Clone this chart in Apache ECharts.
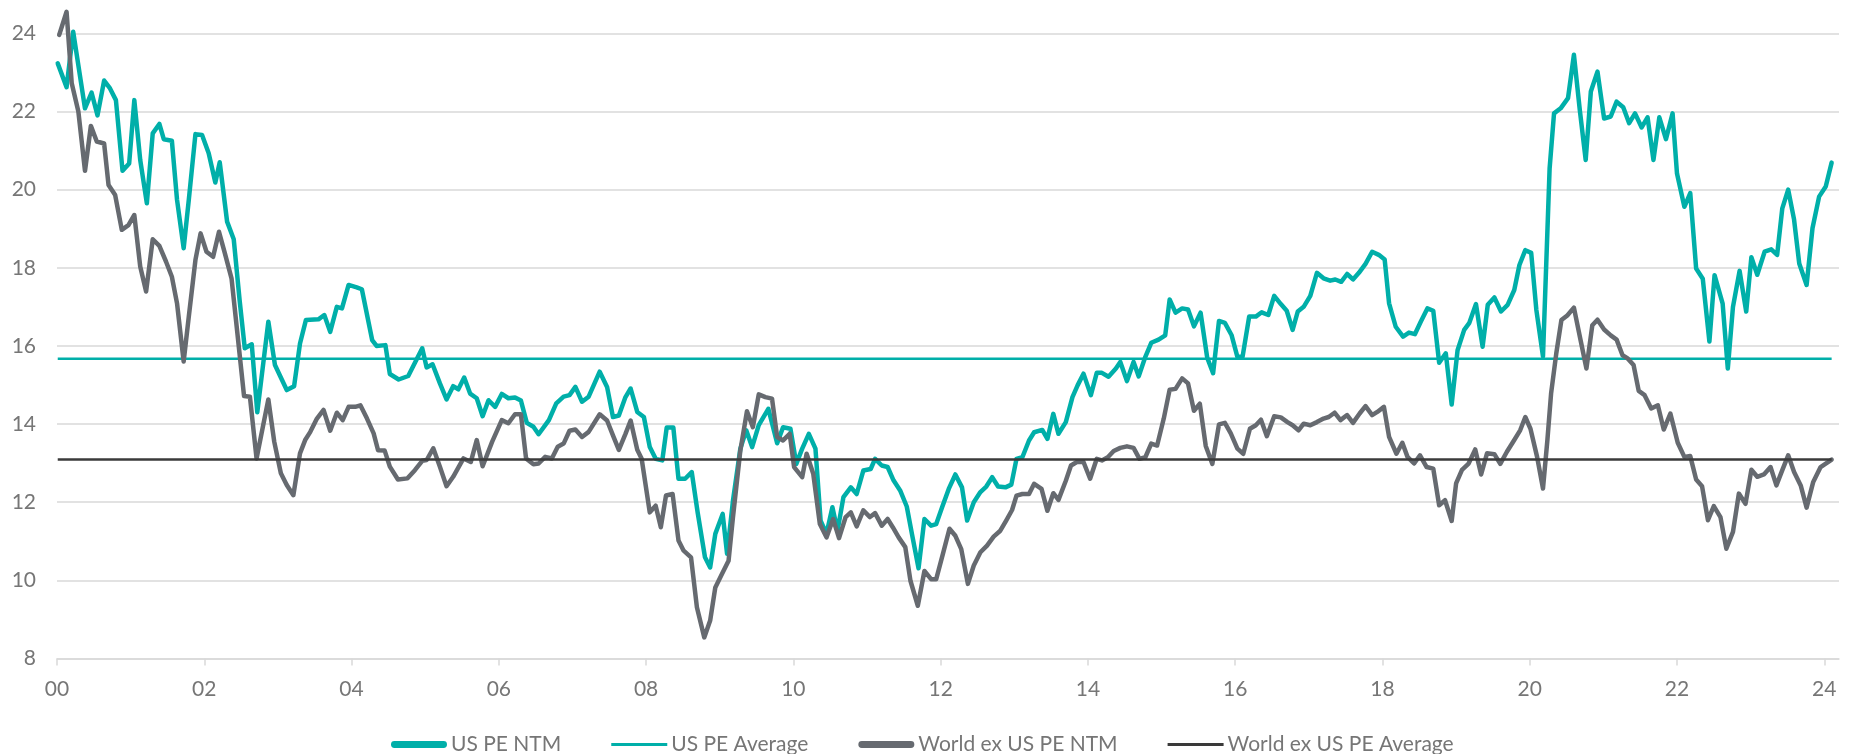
<!DOCTYPE html>
<html>
<head>
<meta charset="utf-8">
<script src="https://cdn.jsdelivr.net/npm/echarts@6/dist/echarts.min.js"></script>
<style>
html,body{margin:0;padding:0;background:#fff;}
#chart{width:1855px;height:754px;}
</style>
</head>
<body>
<div id="chart"></div>
<script>
// x values: years since 2000 (labels '00'..'24')
const xTickLabels = ['00','02','04','06','08','10','12','14','16','18','20','22','24'];
const yTicks = [8,10,12,14,16,18,20,22,24];

const usYears = [0.01,0.13,0.22,0.38,0.47,0.55,0.64,0.72,0.80,0.89,0.98,1.05,1.13,1.22,1.30,1.39,1.45,1.56,1.63,1.72,1.79,1.88,1.97,2.06,2.15,2.21,2.31,2.40,2.48,2.55,2.645,2.72,2.87,2.96,3.12,3.22,3.30,3.38,3.55,3.63,3.71,3.80,3.87,3.96,4.07,4.14,4.28,4.34,4.46,4.52,4.64,4.77,4.96,5.02,5.10,5.20,5.29,5.38,5.45,5.53,5.61,5.70,5.78,5.86,5.95,6.04,6.13,6.22,6.30,6.38,6.47,6.54,6.68,6.78,6.88,6.96,7.04,7.13,7.22,7.37,7.47,7.55,7.63,7.72,7.79,7.88,7.97,8.05,8.13,8.22,8.28,8.37,8.44,8.53,8.62,8.70,8.80,8.87,8.94,9.04,9.10,9.18,9.28,9.36,9.44,9.53,9.66,9.78,9.86,9.96,10.04,10.12,10.21,10.30,10.37,10.45,10.53,10.60,10.68,10.78,10.86,10.95,11.05,11.11,11.20,11.28,11.36,11.45,11.54,11.61,11.70,11.78,11.87,11.94,12.02,12.11,12.20,12.29,12.36,12.45,12.54,12.62,12.70,12.78,12.88,12.96,13.03,13.11,13.20,13.27,13.38,13.45,13.53,13.60,13.70,13.79,13.86,13.94,14.04,14.12,14.19,14.28,14.38,14.44,14.53,14.62,14.69,14.78,14.86,14.96,15.05,15.11,15.19,15.28,15.36,15.44,15.53,15.62,15.70,15.78,15.86,15.95,16.03,16.10,16.19,16.28,16.36,16.45,16.53,16.62,16.70,16.78,16.85,16.93,17.02,17.11,17.20,17.29,17.36,17.44,17.52,17.60,17.68,17.77,17.86,17.95,18.03,18.09,18.18,18.28,18.36,18.44,18.52,18.61,18.69,18.77,18.86,18.94,19.02,19.11,19.18,19.27,19.36,19.43,19.52,19.61,19.70,19.79,19.86,19.94,20.02,20.09,20.18,20.27,20.33,20.42,20.52,20.60,20.68,20.76,20.83,20.92,21.01,21.10,21.18,21.27,21.35,21.43,21.52,21.60,21.68,21.76,21.85,21.94,22.00,22.10,22.18,22.26,22.35,22.44,22.51,22.62,22.69,22.76,22.85,22.94,23.01,23.09,23.19,23.28,23.36,23.43,23.51,23.59,23.66,23.76,23.84,23.93,24.02,24.10];
const usPE = [23.23,22.62,24.04,22.08,22.48,21.90,22.79,22.59,22.29,20.48,20.67,22.29,20.76,19.65,21.44,21.68,21.29,21.25,19.74,18.50,19.74,21.42,21.40,20.93,20.18,20.70,19.18,18.73,17.17,15.94,16.04,14.30,16.62,15.51,14.87,14.97,16.06,16.66,16.68,16.79,16.36,17.00,16.96,17.56,17.50,17.45,16.15,16.00,16.02,15.28,15.14,15.23,15.94,15.45,15.53,15.04,14.63,14.97,14.89,15.19,14.78,14.66,14.20,14.61,14.44,14.77,14.66,14.68,14.60,14.03,13.93,13.74,14.10,14.53,14.70,14.74,14.95,14.57,14.70,15.34,14.95,14.18,14.22,14.69,14.91,14.31,14.18,13.41,13.11,13.07,13.91,13.91,12.60,12.60,12.77,11.74,10.59,10.33,11.19,11.70,10.68,12.04,13.37,13.84,13.41,13.97,14.39,13.51,13.92,13.88,12.98,13.37,13.75,13.37,11.53,11.19,11.87,11.27,12.13,12.38,12.21,12.81,12.85,13.11,12.94,12.90,12.56,12.30,11.89,11.19,10.31,11.57,11.40,11.44,11.87,12.34,12.71,12.38,11.53,12.00,12.26,12.40,12.64,12.40,12.38,12.45,13.11,13.15,13.58,13.79,13.85,13.62,14.26,13.75,14.05,14.69,14.99,15.29,14.74,15.31,15.31,15.21,15.42,15.59,15.10,15.59,15.22,15.72,16.08,16.16,16.27,17.19,16.85,16.96,16.93,16.50,16.85,15.70,15.30,16.64,16.59,16.28,15.72,15.72,16.75,16.75,16.86,16.79,17.28,17.07,16.90,16.41,16.88,17.00,17.28,17.87,17.73,17.67,17.70,17.64,17.84,17.70,17.87,18.10,18.41,18.33,18.21,17.09,16.49,16.24,16.34,16.30,16.62,16.96,16.90,15.57,15.81,14.50,15.89,16.41,16.59,17.07,15.98,17.05,17.24,16.88,17.05,17.43,18.07,18.45,18.38,16.92,15.73,20.54,21.95,22.08,22.34,23.45,22.04,20.76,22.51,23.02,21.82,21.87,22.25,22.11,21.70,21.95,21.59,21.85,20.76,21.85,21.29,21.95,20.41,19.56,19.91,17.98,17.72,16.11,17.81,17.08,15.42,17.00,17.92,16.88,18.27,17.82,18.41,18.47,18.33,19.52,20.00,19.23,18.11,17.56,19.01,19.82,20.08,20.69];

const wxYears = [0.03,0.13,0.20,0.29,0.38,0.46,0.54,0.64,0.70,0.79,0.88,0.97,1.05,1.13,1.21,1.30,1.39,1.48,1.56,1.63,1.72,1.79,1.88,1.95,2.03,2.12,2.20,2.28,2.37,2.45,2.54,2.62,2.71,2.87,2.95,3.04,3.12,3.21,3.30,3.37,3.44,3.53,3.62,3.71,3.80,3.88,3.96,4.05,4.12,4.21,4.30,4.36,4.45,4.52,4.63,4.76,4.86,4.96,5.02,5.11,5.20,5.29,5.38,5.52,5.62,5.70,5.78,5.91,6.04,6.13,6.22,6.30,6.37,6.47,6.54,6.63,6.72,6.80,6.88,6.96,7.04,7.13,7.22,7.37,7.47,7.55,7.63,7.72,7.79,7.88,7.94,8.05,8.13,8.20,8.27,8.36,8.44,8.51,8.61,8.69,8.79,8.87,8.94,9.03,9.12,9.18,9.28,9.37,9.45,9.53,9.62,9.71,9.78,9.86,9.95,10.01,10.12,10.18,10.27,10.36,10.45,10.54,10.62,10.71,10.78,10.86,10.95,11.04,11.11,11.20,11.28,11.35,11.43,11.52,11.59,11.69,11.78,11.87,11.94,12.03,12.12,12.20,12.28,12.37,12.45,12.54,12.63,12.72,12.81,12.89,12.97,13.03,13.11,13.20,13.27,13.37,13.45,13.53,13.60,13.70,13.77,13.85,13.94,14.03,14.12,14.19,14.27,14.35,14.44,14.53,14.62,14.70,14.78,14.86,14.94,15.03,15.11,15.19,15.28,15.36,15.44,15.52,15.60,15.69,15.78,15.86,15.94,16.03,16.11,16.20,16.28,16.35,16.43,16.53,16.62,16.71,16.78,16.86,16.93,17.02,17.11,17.20,17.27,17.35,17.43,17.52,17.60,17.69,17.77,17.86,17.93,18.02,18.09,18.19,18.27,18.34,18.43,18.51,18.60,18.69,18.77,18.85,18.94,19.00,19.08,19.17,19.26,19.34,19.42,19.52,19.60,19.69,19.79,19.87,19.94,20.01,20.10,20.18,20.24,20.29,20.36,20.43,20.51,20.60,20.69,20.77,20.85,20.92,21.01,21.10,21.18,21.26,21.33,21.41,21.48,21.56,21.65,21.74,21.82,21.91,22.01,22.10,22.18,22.26,22.34,22.42,22.50,22.59,22.67,22.76,22.84,22.93,23.01,23.09,23.18,23.27,23.35,23.43,23.51,23.59,23.68,23.76,23.85,23.95,24.04,24.10];
const wxPE = [23.96,24.55,22.72,22.00,20.48,21.63,21.23,21.18,20.12,19.86,18.97,19.09,19.35,18.03,17.39,18.73,18.56,18.16,17.77,17.09,15.60,16.75,18.20,18.88,18.41,18.28,18.92,18.37,17.73,16.32,14.72,14.70,13.12,14.63,13.55,12.74,12.44,12.18,13.25,13.59,13.80,14.14,14.36,13.83,14.29,14.10,14.44,14.44,14.48,14.14,13.76,13.33,13.32,12.91,12.58,12.61,12.82,13.06,13.08,13.38,12.91,12.41,12.65,13.12,13.03,13.59,12.92,13.55,14.10,14.02,14.25,14.25,13.12,12.97,12.99,13.16,13.12,13.42,13.50,13.83,13.86,13.67,13.80,14.25,14.09,13.71,13.34,13.75,14.09,13.34,13.11,11.74,11.91,11.36,12.17,12.21,11.02,10.76,10.59,9.31,8.54,8.97,9.82,10.16,10.50,11.62,13.32,14.33,13.92,14.76,14.69,14.65,13.67,13.58,13.75,12.90,12.64,13.24,12.73,11.44,11.10,11.57,11.08,11.62,11.74,11.38,11.79,11.62,11.72,11.40,11.57,11.36,11.10,10.85,9.99,9.35,10.24,10.03,10.03,10.67,11.32,11.14,10.80,9.91,10.38,10.72,10.89,11.12,11.27,11.53,11.80,12.17,12.21,12.21,12.47,12.34,11.78,12.23,12.06,12.55,12.94,13.03,13.03,12.60,13.11,13.07,13.15,13.31,13.39,13.43,13.39,13.11,13.15,13.50,13.45,14.14,14.88,14.90,15.17,15.04,14.34,14.52,13.44,12.98,13.99,14.03,13.76,13.37,13.24,13.88,13.97,14.11,13.69,14.20,14.17,14.05,13.97,13.84,14.01,13.97,14.05,14.14,14.18,14.29,14.10,14.23,14.03,14.27,14.46,14.23,14.31,14.44,13.67,13.24,13.52,13.16,12.99,13.20,12.90,12.86,11.92,12.05,11.52,12.48,12.83,12.99,13.35,12.71,13.25,13.23,12.98,13.29,13.59,13.84,14.18,13.88,13.16,12.35,13.59,14.78,15.80,16.66,16.78,16.98,16.15,15.42,16.53,16.67,16.42,16.27,16.16,15.76,15.68,15.51,14.85,14.74,14.40,14.48,13.86,14.27,13.52,13.16,13.18,12.58,12.41,11.54,11.90,11.62,10.81,11.24,12.22,11.96,12.83,12.65,12.71,12.90,12.43,12.82,13.20,12.77,12.43,11.86,12.52,12.90,13.01,13.09];

const usAverage = 15.67;
const wxAverage = 13.09;

const seriesNames = ['US PE NTM','US PE Average','World ex US PE NTM','World ex US PE Average'];

const TEAL = '#00AFA9';
const GREY = '#666A70';
const DARK = '#3A3A3A';

const zip = (xs, ys) => xs.map((x, i) => [x, ys[i]]);
const first = Math.min(usYears[0], wxYears[0]);
const last = Math.max(usYears[usYears.length-1], wxYears[wxYears.length-1]);

const chart = echarts.init(document.getElementById('chart'), null, {renderer:'canvas'});
const FONT = 'Lato, "Open Sans", sans-serif';
chart.setOption({
  animation: false,
  backgroundColor: '#ffffff',
  grid: {left: 57, right: 16, top: 33.3, bottom: 95.5, containLabel: false},
  xAxis: {
    type: 'value', min: 0, max: 24.2, interval: 2,
    axisLine: {show: true, lineStyle: {color: '#d9d9d9', width: 1.5}},
    axisTick: {show: true, length: 7, lineStyle: {color: '#d9d9d9', width: 1.5}},
    splitLine: {show: false},
    axisLabel: {
      margin: 20, color: '#767676', fontSize: 21, fontFamily: FONT,
      showMaxLabel: false,
      formatter: v => { const i = Math.round(v / 2); return (Math.abs(v - i*2) < 1e-6 && xTickLabels[i]) ? xTickLabels[i] : ''; }
    }
  },
  yAxis: {
    type: 'value', min: yTicks[0], max: yTicks[yTicks.length-1], interval: 2,
    axisLine: {show: false}, axisTick: {show: false},
    splitLine: {show: true, lineStyle: {color: '#d9d9d9', width: 1.5}},
    axisLabel: {margin: 21, color: '#767676', fontSize: 21, fontFamily: FONT}
  },
  legend: {
    left: 386, top: 729, itemWidth: 56, itemHeight: 14, itemGap: 50,
    textStyle: {color: '#767676', fontSize: 21, fontFamily: FONT, padding: [0,0,0,-1]},
    data: [
      {name: seriesNames[0], icon: 'path://M3,0 L53,0 A3.5,3.5 0 0 1 53,7 L3,7 A3.5,3.5 0 0 1 3,0 Z', itemStyle: {color: TEAL}},
      {name: seriesNames[1], icon: 'path://M0,0 L56,0 L56,3 L0,3 Z', itemStyle: {color: TEAL}},
      {name: seriesNames[2], icon: 'path://M3,0 L53,0 A3.5,3.5 0 0 1 53,7 L3,7 A3.5,3.5 0 0 1 3,0 Z', itemStyle: {color: GREY}},
      {name: seriesNames[3], icon: 'path://M0,0 L56,0 L56,3 L0,3 Z', itemStyle: {color: DARK}}
    ]
  },
  series: [
    {name: seriesNames[0], type: 'line', data: zip(usYears, usPE), showSymbol: false, clip: false,
     lineStyle: {color: TEAL, width: 4.5, join: 'round', cap: 'round'}, itemStyle: {color: TEAL}, z: 2},
    {name: seriesNames[1], type: 'line', data: [[first, usAverage],[last, usAverage]], showSymbol: false,
     lineStyle: {color: TEAL, width: 2.5}, itemStyle: {color: TEAL}, z: 3},
    {name: seriesNames[2], type: 'line', data: zip(wxYears, wxPE), showSymbol: false, clip: false,
     lineStyle: {color: GREY, width: 4.5, join: 'round', cap: 'round'}, itemStyle: {color: GREY}, z: 4},
    {name: seriesNames[3], type: 'line', data: [[first, wxAverage],[last, wxAverage]], showSymbol: false,
     lineStyle: {color: DARK, width: 2.5}, itemStyle: {color: DARK}, z: 5}
  ]
});
</script>
</body>
</html>
